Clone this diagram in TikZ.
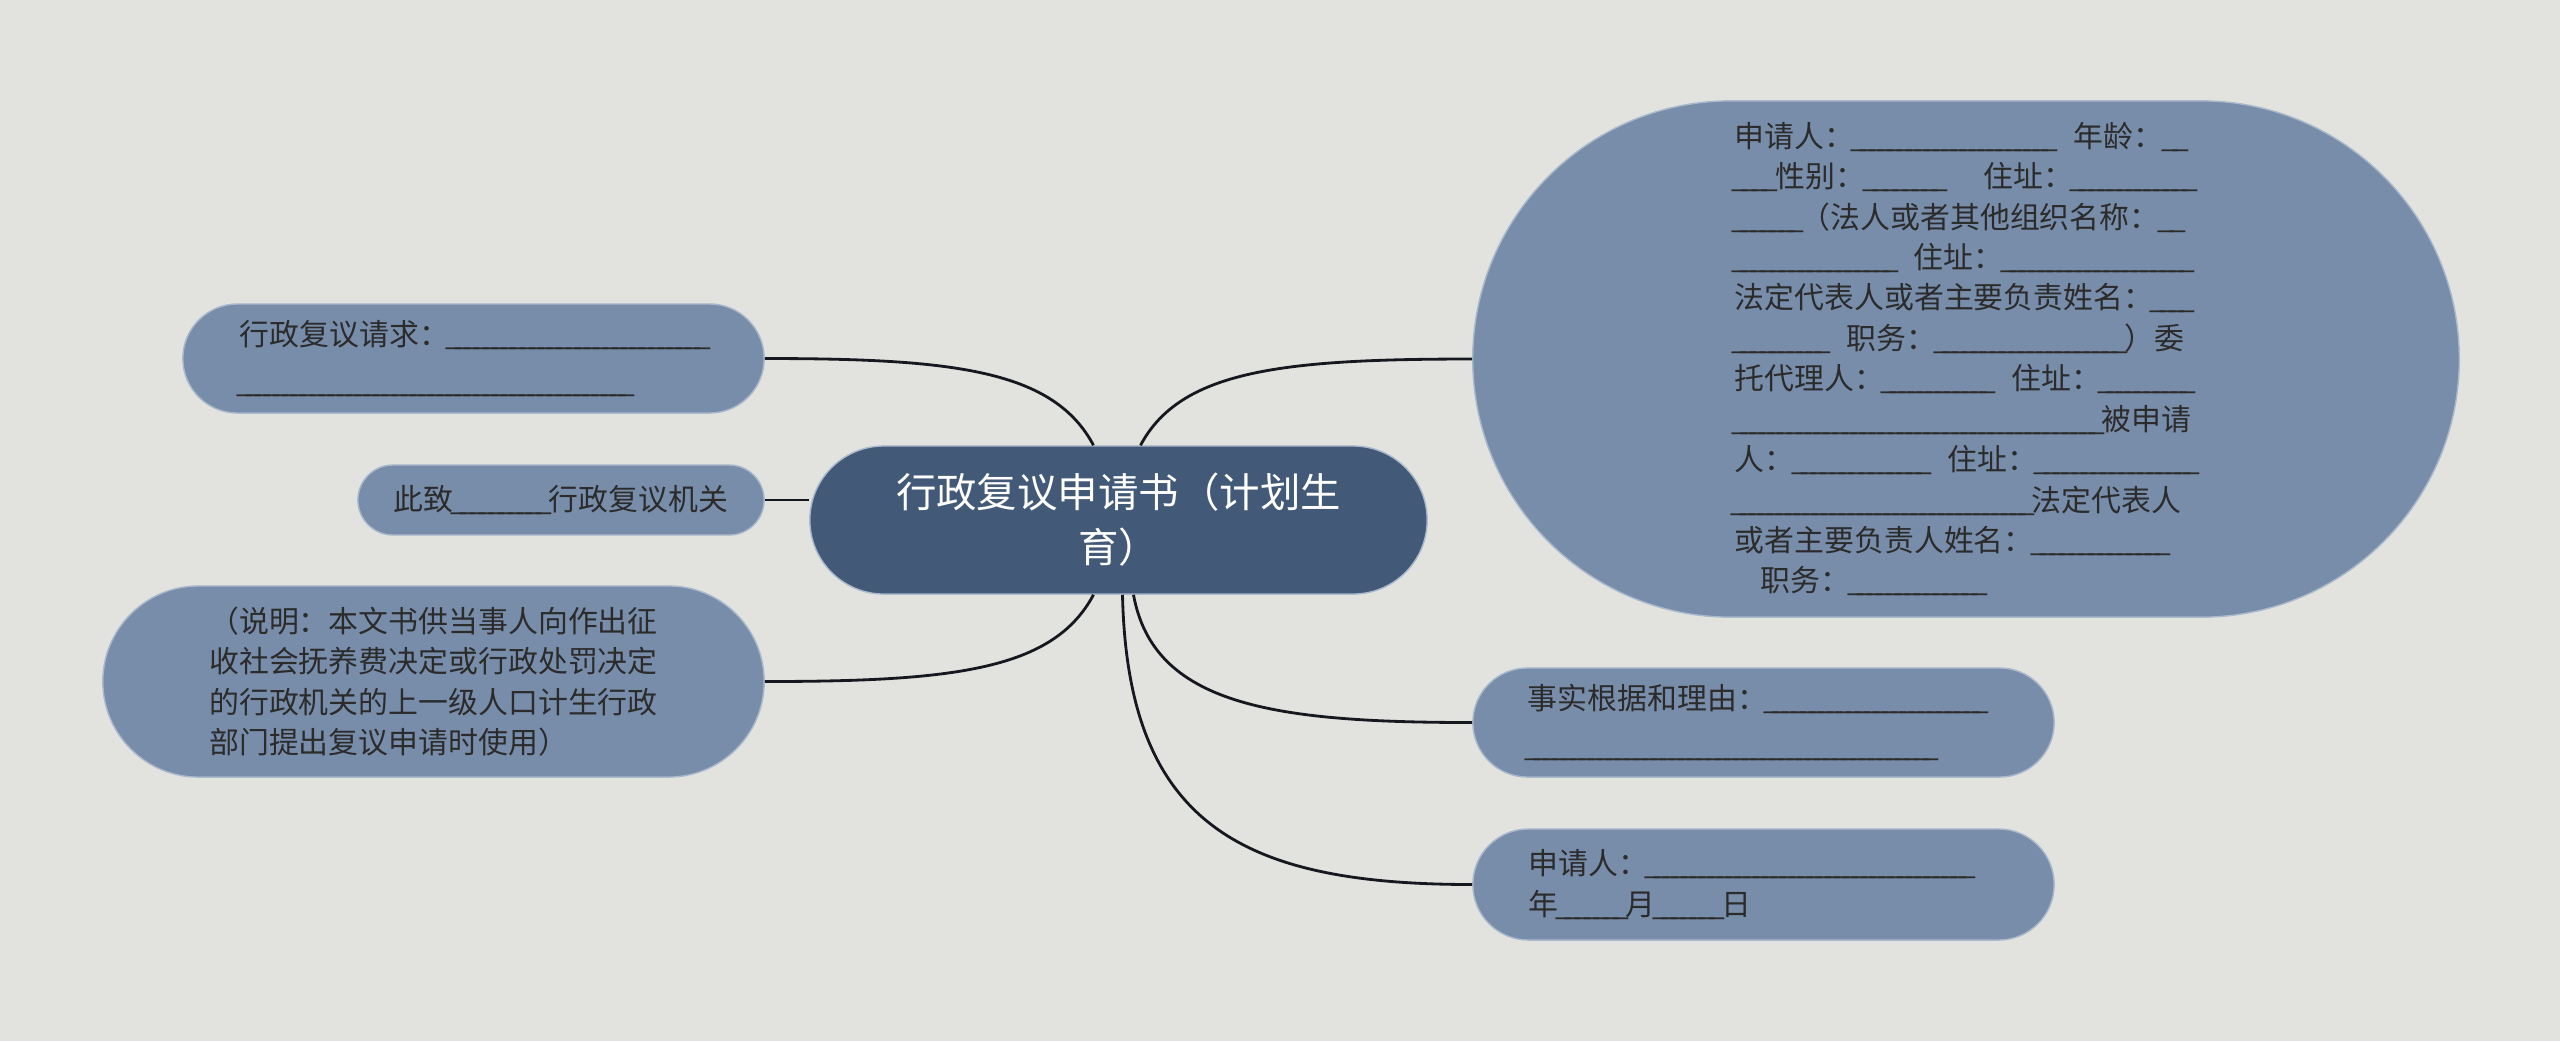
\documentclass[tikz,border=0pt]{standalone}
\usepackage{fontspec}
\setmainfont{Noto Sans CJK SC}
\definecolor{bggrey}{RGB}{226,227,222}
\definecolor{slate}{RGB}{66,89,120}
\definecolor{leafblue}{RGB}{120,141,170}
\definecolor{leafedge}{RGB}{170,184,204}
\definecolor{inkgrey}{RGB}{43,43,43}
\definecolor{wire}{RGB}{22,24,32}
\newlength\pxu
\setlength\pxu{0.01cm}
% blank line of underscores, n px long
\newcommand\bl[1]{\hbox to #1\pxu{\xleaders\hbox to 0.3em{\hss\_\hss}\hfill}}
\newcommand\gap[1]{\hspace*{#1\pxu}}
\newcommand\pad[1]{\hbox to #1\pxu{}}

\begin{document}
\begin{tikzpicture}[x=0.01cm,y=-0.01cm,
  leaf/.style={draw=leafedge,line width=0.4pt,fill=leafblue,text=inkgrey,align=left,
    inner sep=0pt,font=\fontsize{8.5pt}{11.5pt}\selectfont},
  hub/.style={draw=leafedge,line width=0.4pt,fill=slate,text=white,align=center,
    inner sep=0pt,font=\fontsize{11.5pt}{15.6pt}\selectfont},
  link/.style={draw=wire,line width=0.8pt}
]
\fill[bggrey] (0,0) rectangle (2560,1041);
\useasboundingbox (0,0) rectangle (2560,1041);

\node[hub,minimum width=6.17cm,minimum height=1.48cm,rounded corners=0.74cm] (title) at (1118.5,520)
  {行政复议申请书（计划生\\育）};

% left side
\node[leaf,minimum width=5.81cm,minimum height=1.09cm,rounded corners=0.545cm] (req) at (473.5,358.5)
  {行政复议请求：\bl{258}\\[1.9pt]\bl{392}};
\node[leaf,minimum width=4.06cm,minimum height=0.70cm,rounded corners=0.35cm] (dest) at (561,500)
  {此致\bl{95}行政复议机关};
\node[leaf,minimum width=6.61cm,minimum height=1.91cm,rounded corners=0.955cm] (note) at (433.5,681.5)
  {（说明：本文书供当事人向作出征\\收社会抚养费决定或行政处罚决定\\的行政机关的上一级人口计生行政\\部门提出复议申请时使用）};

% right side
\node[leaf,minimum width=9.86cm,minimum height=5.16cm,rounded corners=2.58cm] (party) at (1966,359)
  {申请人：\bl{200}\gap{19}年龄：\bl{25}\\
   \bl{41}性别：\bl{80}\gap{38}住址：\bl{121}\\
   \bl{66}（法人或者其他组织名称：\bl{25}\\
   \bl{161}\gap{18}住址：\bl{188}\\
   法定代表人或者主要负责姓名：\bl{38}\\
   \bl{93}\gap{19}职务：\bl{188}）委\\
   托代理人：\bl{108}\gap{19}住址：\bl{92}\\
   \bl{367}被申请\\
   人：\bl{134}\gap{19}住址：\bl{160}\\
   \bl{297}法定代表人\\
   或者主要负责人姓名：\bl{134}\\
   \gap{26}职务：\bl{134}};
\node[leaf,minimum width=5.81cm,minimum height=1.09cm,rounded corners=0.545cm] (facts) at (1763.5,722.5)
  {事实根据和理由：\bl{218}\pad{14}\\[1.9pt]\bl{407}};
\node[leaf,minimum width=5.81cm,minimum height=1.11cm,rounded corners=0.555cm] (sign) at (1763.5,884.5)
  {申请人：\bl{324}\pad{26}\\年\bl{67}月\bl{66}日};

\draw[link] ([xshift=-0.25cm]title.north) .. controls +(-40,-75) and +(190,0) .. (req.east);
\draw[link] (dest.east) -- (dest.east -| title.west);
\draw[link] ([xshift=-0.25cm]title.south) .. controls +(-40,75) and +(190,0) .. (note.east);
\draw[link] ([xshift=0.22cm]title.north) .. controls +(40,-75) and +(-190,0) .. (party.west);
\draw[link] ([xshift=0.15cm]title.south) .. controls +(20,110) and +(-200,0) .. (facts.west);
\draw[link] ([xshift=0.04cm]title.south) .. controls +(5,230) and +(-230,0) .. (sign.west);
\end{tikzpicture}
\end{document}
